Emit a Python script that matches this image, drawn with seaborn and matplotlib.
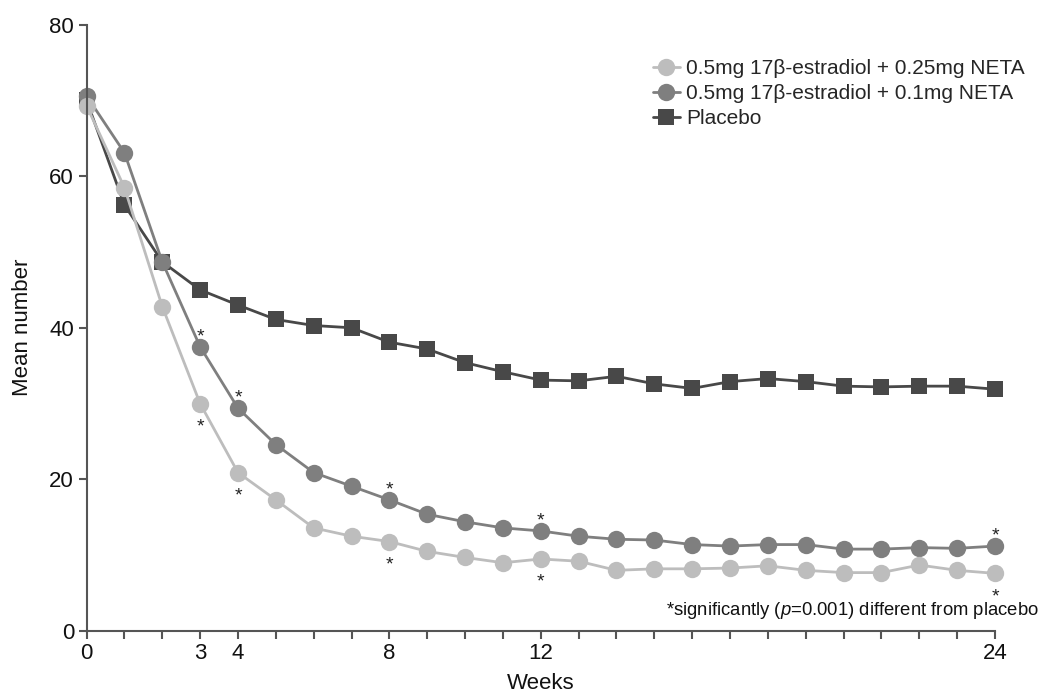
import matplotlib
matplotlib.use('Agg')
import matplotlib.pyplot as plt
import pandas as pd
import seaborn as sns

# Data
weeks = list(range(25))
neta_025 = [69.3, 58.5, 42.8, 30.0, 20.9, 17.3, 13.6, 12.5, 11.8, 10.5, 9.7, 9.0, 9.5,
            9.2, 8.0, 8.2, 8.2, 8.3, 8.6, 8.0, 7.7, 7.7, 8.7, 8.0, 7.6]
neta_01 = [70.6, 63.1, 48.7, 37.5, 29.4, 24.6, 20.9, 19.1, 17.3, 15.4, 14.4, 13.6, 13.2,
           12.5, 12.1, 12.0, 11.4, 11.2, 11.4, 11.4, 10.8, 10.8, 11.0, 10.9, 11.2]
placebo = [70.0, 56.2, 48.7, 45.0, 43.0, 41.1, 40.3, 40.0, 38.1, 37.2, 35.4, 34.2, 33.1,
           33.0, 33.6, 32.6, 32.0, 32.9, 33.3, 32.9, 32.3, 32.2, 32.3, 32.3, 31.9]
series_names = ['0.5mg 17β-estradiol + 0.25mg NETA',
                '0.5mg 17β-estradiol + 0.1mg NETA',
                'Placebo']
sig_weeks = [3, 4, 8, 12, 24]
tick_labels = {0: '0', 3: '3', 4: '4', 8: '8', 12: '12', 24: '24'}

df = pd.DataFrame({
    'week': weeks * 3,
    'value': neta_025 + neta_01 + placebo,
    'group': [series_names[0]] * 25 + [series_names[1]] * 25 + [series_names[2]] * 25,
})

sns.set_style('white')
plt.rcParams['font.family'] = ['Liberation Sans', 'DejaVu Sans']
plt.rcParams['mathtext.fontset'] = 'custom'
plt.rcParams['mathtext.rm'] = 'Liberation Sans'
plt.rcParams['mathtext.it'] = 'Liberation Sans:italic'

colors = {series_names[0]: '#bdbdbd', series_names[1]: '#7f7f7f', series_names[2]: '#484848'}
markers = {series_names[0]: 'o', series_names[1]: 'o', series_names[2]: 's'}

fig = plt.figure(figsize=(10.43, 6.93), dpi=100)
ax = fig.add_axes([0.083, 0.0895, 0.871, 0.875])

# draw placebo first so circles sit on top
for name in [series_names[2], series_names[1], series_names[0]]:
    sub = df[df['group'] == name]
    sns.lineplot(data=sub, x='week', y='value', ax=ax, color=colors[name],
                 marker=markers[name], markersize=12.5 if markers[name] == 'o' else 11.5,
                 markeredgewidth=0, linewidth=2, label=name)

# significance asterisks
for w in sig_weeks:
    ax.annotate('*', (w, neta_01[w]), xytext=(0, 4), textcoords='offset points',
                ha='center', va='baseline', fontsize=14, color='#222222')
    ax.annotate('*', (w, neta_025[w]), xytext=(0, -20), textcoords='offset points',
                ha='center', va='baseline', fontsize=14, color='#222222')

ax.set_xlim(0, 24)
ax.set_ylim(0, 80)
ax.set_xticks(weeks)
ax.set_xticklabels([tick_labels.get(w, '') for w in weeks])
ax.set_yticks([0, 20, 40, 60, 80])
ax.tick_params(axis='both', direction='out', length=6, width=1.5, color='#555555',
               labelsize=16, labelcolor='#111111', bottom=True, left=True, pad=3)
for s in ['top', 'right']:
    ax.spines[s].set_visible(False)
for s in ['left', 'bottom']:
    ax.spines[s].set_color('#555555')
    ax.spines[s].set_linewidth(1.5)
for line in ax.get_lines():
    line.set_clip_on(False)

ax.set_xlabel('Weeks', fontsize=16, color='#111111', labelpad=6)
ax.set_ylabel('Mean number', fontsize=16, color='#111111', labelpad=12)

handles, labels = ax.get_legend_handles_labels()
order = [labels.index(n) for n in series_names]
ax.legend([handles[i] for i in order], [labels[i] for i in order], loc='upper left',
          bbox_to_anchor=(0.626, 0.915), bbox_transform=fig.transFigure,
          frameon=False, fontsize=15, handlelength=1.3, handletextpad=0.3,
          labelspacing=0.3, borderaxespad=0, borderpad=0)

fig.text(0.996, 0.112, r'*significantly ($\it{p}$=0.001) different from placebo',
         ha='right', va='baseline', fontsize=13.3, color='#111111')

fig.savefig('out.png', dpi=100)
